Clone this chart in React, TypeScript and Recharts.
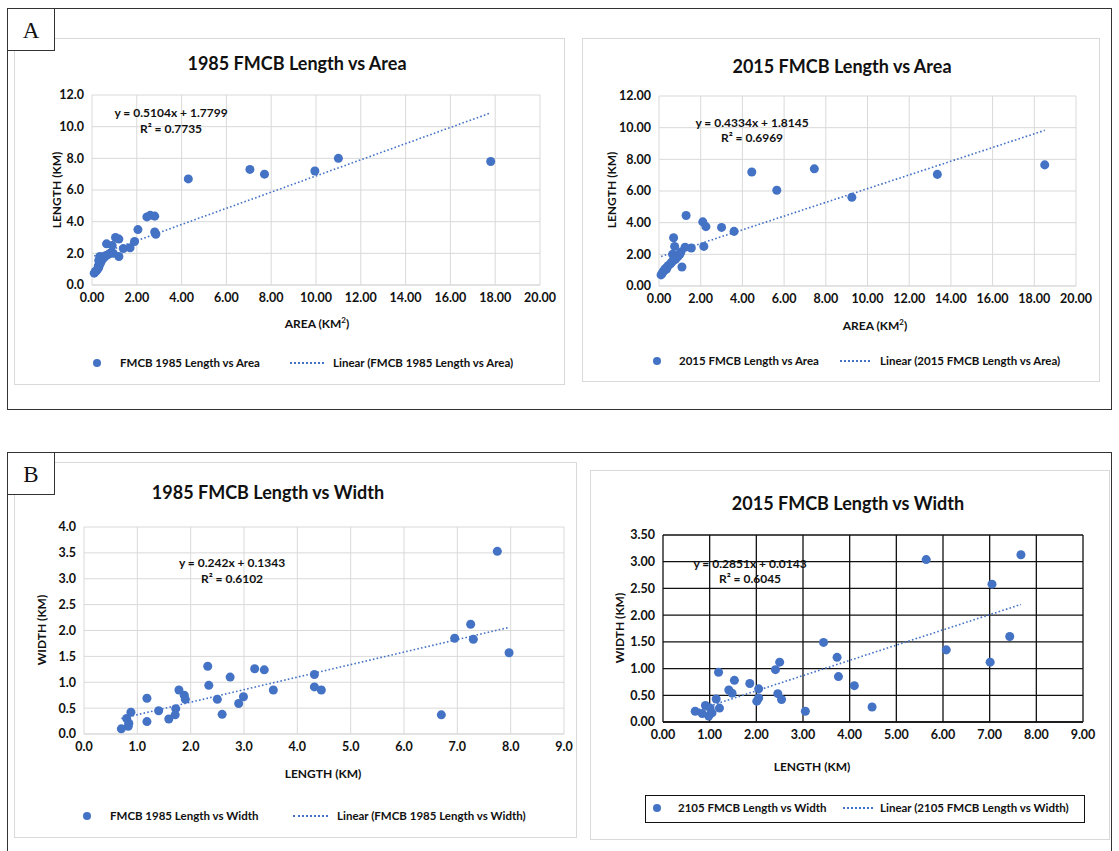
import React from "react";
import { ScatterChart, Scatter, XAxis, YAxis, CartesianGrid } from "recharts";

const BLUE = "#4472C4";
const FONT = "Lato, 'Open Sans', sans-serif";

// 1985 length vs area
const area1985 = [0.1, 0.15, 0.2, 0.25, 0.3, 0.28, 0.35, 0.4, 0.3, 0.45, 0.5, 0.55, 0.35, 0.6, 0.7, 0.8, 0.95, 0.9, 0.65, 1.05, 1.2, 1.2, 1.4, 1.7, 1.9, 2.05, 2.45, 2.6, 2.8, 2.8, 2.85, 4.3, 7.05, 7.7, 9.95, 11.0, 17.8];
const length1985A = [0.75, 0.85, 0.9, 1.0, 1.1, 1.2, 1.3, 1.45, 1.55, 1.6, 1.7, 1.75, 1.8, 1.85, 1.9, 2.0, 2.0, 2.5, 2.6, 3.0, 2.9, 1.8, 2.3, 2.35, 2.75, 3.5, 4.3, 4.4, 4.35, 3.35, 3.2, 6.7, 7.3, 7.0, 7.2, 8.0, 7.8];
const trendA1985x = [0.1, 17.8];
const trendA1985y = [1.83, 10.87];

// 2015 length vs area
const area2015 = [0.1, 0.15, 0.2, 0.25, 0.3, 0.35, 0.4, 0.45, 0.55, 0.6, 0.7, 0.8, 0.65, 0.9, 1.0, 1.05, 1.1, 0.75, 0.7, 1.25, 1.55, 1.3, 2.1, 2.15, 2.25, 3.0, 3.6, 4.45, 5.65, 7.45, 9.25, 13.35, 18.5];
const length2015A = [0.7, 0.8, 0.9, 1.0, 1.1, 1.05, 1.2, 1.3, 1.4, 1.5, 1.6, 1.7, 2.0, 1.85, 2.0, 2.15, 1.2, 2.5, 3.05, 2.45, 2.4, 4.45, 4.05, 2.5, 3.75, 3.7, 3.45, 7.2, 6.05, 7.4, 5.6, 7.05, 7.65];
const trendA2015x = [0.1, 18.5];
const trendA2015y = [1.86, 9.83];

// 1985 length vs width
const length1985B = [7.75, 7.25, 6.95, 7.3, 7.97, 6.7, 4.32, 4.32, 4.45, 3.55, 3.38, 3.2, 2.74, 2.32, 2.34, 2.5, 2.59, 2.99, 2.9, 1.78, 1.88, 1.9, 1.72, 1.71, 1.59, 1.4, 1.18, 1.18, 0.88, 0.8, 0.84, 0.83, 0.7];
const width1985 = [3.53, 2.12, 1.85, 1.83, 1.57, 0.37, 1.15, 0.91, 0.85, 0.85, 1.24, 1.26, 1.1, 1.31, 0.94, 0.67, 0.38, 0.72, 0.59, 0.85, 0.75, 0.67, 0.49, 0.37, 0.29, 0.45, 0.69, 0.24, 0.42, 0.3, 0.21, 0.15, 0.1];
const trendB1985x = [0.7, 7.97];
const trendB1985y = [0.3, 2.06];

// 2015 length vs width
const length2015B = [7.67, 5.64, 7.05, 7.43, 6.07, 7.01, 3.44, 3.73, 3.76, 4.1, 4.48, 3.05, 2.5, 2.41, 2.46, 2.54, 2.05, 2.05, 2.01, 1.86, 1.53, 1.41, 1.48, 1.19, 1.14, 1.21, 0.91, 1.01, 1.05, 0.98, 0.84, 0.69];
const width2015 = [3.13, 3.04, 2.58, 1.6, 1.35, 1.12, 1.49, 1.21, 0.85, 0.68, 0.28, 0.2, 1.12, 0.98, 0.53, 0.42, 0.62, 0.45, 0.39, 0.72, 0.78, 0.6, 0.54, 0.93, 0.43, 0.26, 0.31, 0.26, 0.17, 0.11, 0.16, 0.2];
const trendB2015x = [0.69, 7.67];
const trendB2015y = [0.21, 2.2];

const areaTicks = [0, 2, 4, 6, 8, 10, 12, 14, 16, 18, 20];
const lengthAreaTicks = [0, 2, 4, 6, 8, 10, 12];
const lengthTicks = [0, 1, 2, 3, 4, 5, 6, 7, 8, 9];
const widthTicks1985 = [0, 0.5, 1, 1.5, 2, 2.5, 3, 3.5, 4];
const widthTicks2015 = [0, 0.5, 1, 1.5, 2, 2.5, 3, 3.5];

type Pt = { x: number; y: number };
const zip = (xs: number[], ys: number[]): Pt[] => xs.map((x, i) => ({ x, y: ys[i] }));

interface Box { x: number; y: number; w: number; h: number }
interface Plot { x1: number; x2: number; y1: number; y2: number }

interface PanelProps {
  card: Box;
  plot: Plot;
  points: Pt[];
  trend: Pt[];
  xTicks: number[];
  yTicks: number[];
  xDec: number;
  yDec: number;
  title: string;
  titlePos: [number, number];
  xLabel: React.ReactNode;
  xLabelPos: [number, number];
  yLabel: string;
  yLabelPos: [number, number];
  eq: [string, string];
  eqPos: [number, number, number];
  legend: { y: number; marker: number; t1: number; l1: number; l2: number; t2: number };
  names: [string, string];
  legendBox?: Box;
  grid: string;
  gridWidth: number;
}

function Txt({ x, y, size, children, rotate }: { x: number; y: number; size: number; children: React.ReactNode; rotate?: boolean }) {
  return (
    <div
      style={{
        position: "absolute",
        left: x,
        top: y,
        transform: `translate(-50%, -50%)${rotate ? " rotate(-90deg)" : ""}`,
        whiteSpace: "nowrap",
        fontFamily: FONT,
        fontWeight: 700,
        fontSize: size,
        color: "#111",
        lineHeight: 1,
      }}
    >
      {children}
    </div>
  );
}

function Panel(p: PanelProps) {
  const { card, plot } = p;
  const rx = (v: number) => v - card.x;
  const ry = (v: number) => v - card.y;
  const margin = { top: plot.y1 - card.y, right: card.x + card.w - plot.x2, left: 0, bottom: 0 };
  const tick = { fontSize: 12.5, fontWeight: 700, fill: "#111", fontFamily: FONT };
  const lg = p.legend;
  return (
    <div
      style={{
        position: "absolute",
        left: card.x,
        top: card.y,
        width: card.w,
        height: card.h,
        background: "#fff",
        boxShadow: "inset 0 0 0 1px #d9d9d9",
      }}
    >
      <ScatterChart width={card.w} height={card.h} margin={margin}>
        <CartesianGrid stroke={p.grid} strokeWidth={p.gridWidth} />
        <XAxis
          type="number"
          dataKey="x"
          domain={[p.xTicks[0], p.xTicks[p.xTicks.length - 1]]}
          ticks={p.xTicks}
          interval={0}
          tickFormatter={(v: number) => v.toFixed(p.xDec)}
          height={card.y + card.h - plot.y2}
          axisLine={{ stroke: p.grid, strokeWidth: p.gridWidth }}
          tickLine={false}
          tick={tick}
        />
        <YAxis
          type="number"
          dataKey="y"
          domain={[p.yTicks[0], p.yTicks[p.yTicks.length - 1]]}
          ticks={p.yTicks}
          interval={0}
          tickFormatter={(v: number) => v.toFixed(p.yDec)}
          width={plot.x1 - card.x}
          axisLine={false}
          tickLine={false}
          tick={tick}
        />
        <Scatter data={p.points} fill={BLUE} shape="circle" isAnimationActive={false} />
        <Scatter
          data={p.trend}
          line={{ stroke: BLUE, strokeWidth: 1.6, strokeDasharray: "1.6 2.2" }}
          shape={() => <g />}
          isAnimationActive={false}
        />
      </ScatterChart>

      <Txt x={rx(p.titlePos[0])} y={ry(p.titlePos[1])} size={18}>{p.title}</Txt>
      <Txt x={rx(p.xLabelPos[0])} y={ry(p.xLabelPos[1])} size={12}>{p.xLabel}</Txt>
      <Txt x={rx(p.yLabelPos[0])} y={ry(p.yLabelPos[1])} size={12} rotate>{p.yLabel}</Txt>
      <Txt x={rx(p.eqPos[0])} y={ry(p.eqPos[1])} size={12}>{p.eq[0]}</Txt>
      <Txt x={rx(p.eqPos[0])} y={ry(p.eqPos[2])} size={12}>{p.eq[1]}</Txt>

      {p.legendBox && (
        <div
          style={{
            position: "absolute",
            left: rx(p.legendBox.x),
            top: ry(p.legendBox.y),
            width: p.legendBox.w,
            height: p.legendBox.h,
            border: "1px solid #111",
            boxSizing: "border-box",
          }}
        />
      )}
      <div
        style={{
          position: "absolute",
          left: rx(lg.marker) - 4,
          top: ry(lg.y) - 4,
          width: 8,
          height: 8,
          borderRadius: 4,
          background: BLUE,
        }}
      />
      <div
        style={{
          position: "absolute",
          left: rx(lg.l1),
          top: ry(lg.y) - 1,
          width: lg.l2 - lg.l1,
          borderTop: `2px dotted ${BLUE}`,
        }}
      />
      {[
        [lg.t1, p.names[0]],
        [lg.t2, p.names[1]],
      ].map(([x, s]) => (
        <div
          key={String(s)}
          style={{
            position: "absolute",
            left: rx(Number(x)),
            top: ry(lg.y),
            transform: "translateY(-50%)",
            whiteSpace: "nowrap",
            fontFamily: FONT,
            fontWeight: 700,
            fontSize: 11.5,
            color: "#111",
            lineHeight: 1,
          }}
        >
          {s}
        </div>
      ))}
    </div>
  );
}

function Tag({ x, y, label }: { x: number; y: number; label: string }) {
  return (
    <div
      style={{
        position: "absolute",
        left: x,
        top: y,
        width: 48,
        height: 43,
        boxSizing: "border-box",
        border: "1px solid #333",
        background: "#fff",
        fontFamily: "'Liberation Serif', serif",
        fontSize: 23,
        lineHeight: "43px",
        textAlign: "center",
        color: "#111",
      }}
    >
      {label}
    </div>
  );
}

export default function App() {
  return (
    <div style={{ position: "absolute", left: 0, top: 0, width: 1119, height: 851, background: "#fff", overflow: "hidden" }}>
      <div style={{ position: "absolute", left: 7, top: 8, width: 1105, height: 402, border: "1px solid #333", boxSizing: "border-box" }} />
      <div style={{ position: "absolute", left: 7, top: 452, width: 1105, height: 420, border: "1px solid #333", boxSizing: "border-box" }} />

      <Panel
        card={{ x: 14, y: 38, w: 551, h: 347 }}
        plot={{ x1: 92, x2: 540, y1: 95, y2: 285 }}
        points={zip(area1985, length1985A)}
        trend={zip(trendA1985x, trendA1985y)}
        xTicks={areaTicks}
        yTicks={lengthAreaTicks}
        xDec={2}
        yDec={1}
        title="1985 FMCB Length vs Area"
        titlePos={[297, 63]}
        xLabel={<>AREA (KM<sup style={{ fontSize: 8 }}>2</sup>)</>}
        xLabelPos={[317, 323]}
        yLabel="LENGTH (KM)"
        yLabelPos={[57, 190]}
        eq={["y = 0.5104x + 1.7799", "R² = 0.7735"]}
        eqPos={[171, 113, 129]}
        legend={{ y: 363, marker: 97, t1: 120, l1: 290, l2: 324, t2: 333 }}
        names={["FMCB 1985 Length vs Area", "Linear (FMCB 1985 Length vs Area)"]}
        grid="#d9d9d9"
        gridWidth={1}
      />

      <Panel
        card={{ x: 582, y: 38, w: 518, h: 344 }}
        plot={{ x1: 659, x2: 1076, y1: 96, y2: 286 }}
        points={zip(area2015, length2015A)}
        trend={zip(trendA2015x, trendA2015y)}
        xTicks={areaTicks}
        yTicks={lengthAreaTicks}
        xDec={2}
        yDec={2}
        title="2015 FMCB Length vs Area"
        titlePos={[842, 66]}
        xLabel={<>AREA (KM<sup style={{ fontSize: 8 }}>2</sup>)</>}
        xLabelPos={[875, 325]}
        yLabel="LENGTH (KM)"
        yLabelPos={[612, 190]}
        eq={["y = 0.4334x + 1.8145", "R² = 0.6969"]}
        eqPos={[752, 123, 138]}
        legend={{ y: 361, marker: 657, t1: 679, l1: 840, l2: 870, t2: 880 }}
        names={["2015 FMCB Length vs Area", "Linear (2015 FMCB Length vs Area)"]}
        grid="#d9d9d9"
        gridWidth={1}
      />

      <Panel
        card={{ x: 14, y: 462, w: 563, h: 376 }}
        plot={{ x1: 84, x2: 564, y1: 527, y2: 734 }}
        points={zip(length1985B, width1985)}
        trend={zip(trendB1985x, trendB1985y)}
        xTicks={lengthTicks}
        yTicks={widthTicks1985}
        xDec={1}
        yDec={1}
        title="1985 FMCB Length vs Width"
        titlePos={[268, 492]}
        xLabel="LENGTH (KM)"
        xLabelPos={[323, 774]}
        yLabel="WIDTH (KM)"
        yLabelPos={[42, 630]}
        eq={["y = 0.242x + 0.1343", "R² = 0.6102"]}
        eqPos={[232, 563, 579]}
        legend={{ y: 816, marker: 87, t1: 110, l1: 293, l2: 328, t2: 337 }}
        names={["FMCB 1985 Length vs Width", "Linear (FMCB 1985 Length vs Width)"]}
        grid="#d9d9d9"
        gridWidth={1}
      />

      <Panel
        card={{ x: 590, y: 470, w: 520, h: 370 }}
        plot={{ x1: 663, x2: 1083, y1: 535, y2: 722 }}
        points={zip(length2015B, width2015)}
        trend={zip(trendB2015x, trendB2015y)}
        xTicks={lengthTicks}
        yTicks={widthTicks2015}
        xDec={2}
        yDec={2}
        title="2015 FMCB Length vs Width"
        titlePos={[848, 503]}
        xLabel="LENGTH (KM)"
        xLabelPos={[812, 767]}
        yLabel="WIDTH (KM)"
        yLabelPos={[620, 628]}
        eq={["y = 0.2851x + 0.0143", "R² = 0.6045"]}
        eqPos={[750, 564, 579]}
        legend={{ y: 808, marker: 657, t1: 678, l1: 843, l2: 873, t2: 880 }}
        names={["2105 FMCB Length vs Width", "Linear (2105 FMCB Length vs Width)"]}
        legendBox={{ x: 645, y: 795, w: 440, h: 28 }}
        grid="#111"
        gridWidth={1.3}
      />

      <Tag x={7} y={8} label="A" />
      <Tag x={7} y={452} label="B" />
    </div>
  );
}
